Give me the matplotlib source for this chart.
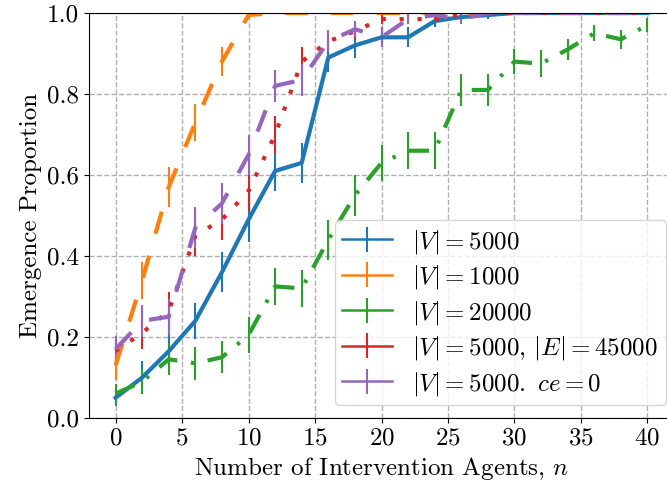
import matplotlib
matplotlib.use("Agg")
import matplotlib.pyplot as plt
from matplotlib.container import ErrorbarContainer
from matplotlib.legend_handler import HandlerErrorbar
from matplotlib.lines import Line2D

plt.rcParams['font.family'] = 'serif'
plt.rcParams['font.serif'] = ['cmr10', 'DejaVu Serif']
plt.rcParams['mathtext.fontset'] = 'cm'
plt.rcParams['axes.formatter.use_mathtext'] = True
plt.rcParams['axes.unicode_minus'] = False
plt.rcParams['font.size'] = 18

# Number of intervention agents
n_agents = list(range(0, 41, 2))

# Emergence proportion and error for each network setting
v5000 = [0.05, 0.10, 0.165, 0.24, 0.36, 0.49, 0.61, 0.63, 0.89, 0.92, 0.94,
         0.94, 0.98, 0.99, 0.995, 1.0, 1.0, 1.0, 1.0, 1.0, 1.0]
v5000_err = [0.02, 0.04, 0.045, 0.045, 0.05, 0.055, 0.05, 0.05, 0.035, 0.03, 0.025,
             0.025, 0.015, 0.01, 0.01, 0, 0, 0, 0, 0, 0]

v1000 = [0.13, 0.34, 0.57, 0.73, 0.88, 0.995, 1.0, 1.0, 1.0, 1.0, 1.0,
         1.0, 1.0, 1.0, 1.0, 1.0, 1.0, 1.0, 1.0, 1.0, 1.0]
v1000_err = [0.035, 0.045, 0.05, 0.045, 0.035, 0.01, 0, 0, 0, 0, 0,
             0, 0, 0, 0, 0, 0, 0, 0, 0, 0]

v20000 = [0.06, 0.09, 0.145, 0.135, 0.15, 0.205, 0.325, 0.32, 0.44, 0.55, 0.63,
          0.66, 0.66, 0.81, 0.81, 0.88, 0.875, 0.91, 0.95, 0.935, 0.97]
v20000_err = [0.025, 0.03, 0.04, 0.04, 0.04, 0.045, 0.045, 0.045, 0.05, 0.05, 0.045,
              0.045, 0.045, 0.04, 0.04, 0.03, 0.033, 0.027, 0.02, 0.023, 0.017]

v5000_e45000 = [0.165, 0.21, 0.265, 0.45, 0.49, 0.56, 0.70, 0.88, 0.93, 0.955, 0.985,
                0.985, 0.985, 0.995, 1.0, 1.0, 1.0, 1.0, 1.0, 1.0, 1.0]
v5000_e45000_err = [0.035, 0.04, 0.045, 0.05, 0.05, 0.05, 0.045, 0.035, 0.027, 0.02, 0.012,
                    0.012, 0.012, 0.005, 0, 0, 0, 0, 0, 0, 0]

v5000_ce0 = [0.17, 0.24, 0.25, 0.47, 0.53, 0.65, 0.82, 0.835, 0.93, 0.96, 0.94,
             0.985, 0.995, 0.985, 1.0, 1.0, 1.0, 1.0, 1.0, 1.0, 1.0]
v5000_ce0_err = [0.033, 0.04, 0.045, 0.05, 0.05, 0.05, 0.04, 0.04, 0.027, 0.02, 0.025,
                 0.012, 0.007, 0.012, 0, 0, 0, 0, 0, 0, 0]

# (values, errors, dash pattern, legend label); dash patterns are scaled by linewidth
series = [
    (v5000, v5000_err, None, '$|V| = 5000$'),
    (v1000, v1000_err, (5.5, 5.5), '$|V| = 1000$'),
    (v20000, v20000_err, (5, 3.3, 0.8, 3.3), '$|V| = 20000$'),
    (v5000_e45000, v5000_e45000_err, (1, 3.3), '$|V| = 5000$, $|E| = 45000$'),
    (v5000_ce0, v5000_ce0_err, (5.5, 5.5), r'$|V| = 5000.\ ce = 0$'),
]
colors = ['tab:blue', 'tab:orange', 'tab:green', 'tab:red', 'tab:purple']

fig = plt.figure(figsize=(6.67, 4.92), dpi=100)
ax = fig.add_axes([89 / 667, 74 / 492, 585 / 667, 405 / 492])

for (vals, errs, dashes, label), c in zip(series, colors):
    cont = ax.errorbar(n_agents, vals, yerr=errs, color=c, lw=3,
                       elinewidth=1.5, capsize=0, label=label)
    if dashes is not None:
        cont.lines[0].set_linestyle((0, dashes))

ax.set_xlim(-2, 42)
ax.set_ylim(0, 1)
ax.set_xticks(range(0, 41, 5))
ax.set_yticks([0.0, 0.2, 0.4, 0.6, 0.8, 1.0])
ax.set_yticklabels(['0.0', '0.2', '0.4', '0.6', '0.8', '1.0'])
ax.grid(True, ls='--', color='#b0b0b0', lw=1)
ax.set_axisbelow(True)

ax.set_xlabel('Number of Intervention Agents, $n$')
ax.set_ylabel('Emergence Proportion')


def solid_handle(legend_handle, orig_handle):
    # legend keys drawn as thin solid lines
    legend_handle.update_from(orig_handle)
    if isinstance(legend_handle, Line2D):
        legend_handle.set_linestyle('-')
        legend_handle.set_linewidth(1.8)


ax.legend(loc='lower left', bbox_to_anchor=(0.42, 0.032), borderaxespad=0,
          fontsize=18, handlelength=2, labelspacing=0.3, borderpad=0.3,
          handler_map={ErrorbarContainer: HandlerErrorbar(update_func=solid_handle)})

fig.savefig('out.png', dpi=100)
